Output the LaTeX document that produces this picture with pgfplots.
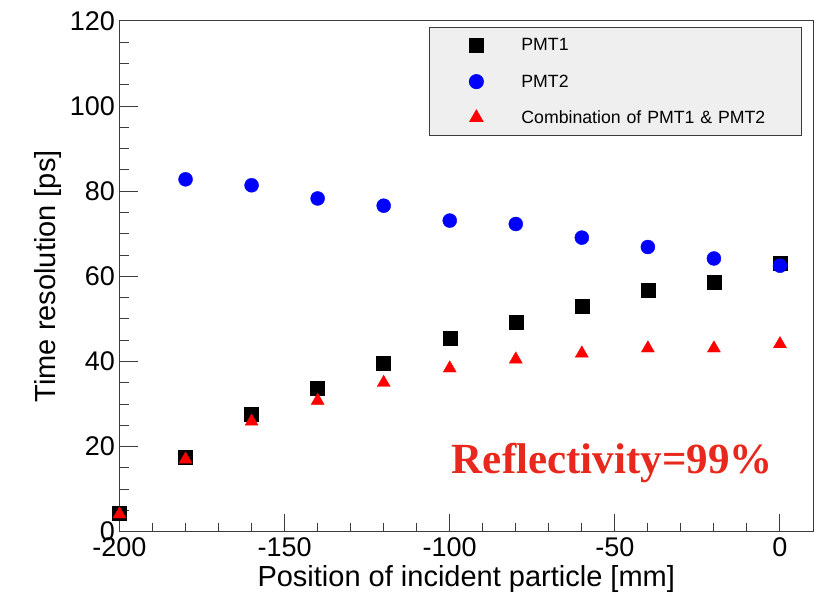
\documentclass[border=0pt]{standalone}
\usepackage{pgfplots}
\pgfplotsset{compat=1.18}
\usepackage{fontspec}
\setmainfont{Liberation Sans}
\newfontfamily\timesfont{Liberation Serif}
\definecolor{legfill}{RGB}{239,239,239}
\definecolor{axgray}{RGB}{60,60,60}
\definecolor{reftext}{RGB}{232,40,28}
\begin{document}
\begin{tikzpicture}
\path[use as bounding box] (0,0) rectangle (817pt,603pt);
\begin{axis}[
  at={(119.5pt,71.3pt)}, anchor=south west,
  scale only axis, width=693.5pt, height=510.7pt,
  xmin=-200, xmax=10, ymin=0, ymax=120,
  xtick={-200,-150,-100,-50,0}, ytick={0,20,40,60,80,100,120},
  minor x tick num=4, minor y tick num=3,
  xtick pos=bottom, ytick pos=left,
  tick align=inside,
  major tick length=18pt, minor tick length=9pt,
  axis line style={axgray, line width=1pt},
  every tick/.style={axgray, line width=1pt},
  /pgf/number format/assume math mode=true,
  ticklabel style={font=\fontsize{27}{27}\selectfont},
  xticklabel style={yshift=-2pt},
  yticklabel style={xshift=-1pt},
  every axis y label/.style={at={(axis description cs:-0.103,0.5)},rotate=90,anchor=center,font=\fontsize{29}{29}\selectfont},
  every axis x label/.style={at={(axis description cs:0.5,-0.092)},anchor=center,font=\fontsize{29}{29}\selectfont},
  xlabel={Position of incident particle [mm]},
  ylabel={Time resolution [ps]},
  legend cell align=left,
  legend style={at={(axis description cs:0.984,0.988)}, anchor=north east,
    fill=legfill, draw=axgray, line width=1pt, inner sep=0pt, column sep=6pt, row sep=0pt,
    font=\fontsize{17.7}{17.7}\selectfont,
    nodes={inner sep=0pt, minimum height=36pt, text width=280pt}},
  legend image code/.code={\path[draw=none] (-47pt,0pt) -- (39pt,0pt); \draw[#1] plot[only marks] coordinates {(0pt,0pt)};},
]
\addplot[only marks, mark=square*, mark size=7pt, black, mark options={draw=black, fill=black}] coordinates {
(-200,4.3) (-180,17.5) (-160,27.7) (-140,33.7) (-120,39.6) (-100,45.4) (-80,49.3) (-60,53.1) (-40,56.8) (-20,58.7) (0,63.1)};
\addlegendentry{PMT1}
\addplot[only marks, mark=*, mark size=7pt, blue, mark options={draw=blue, fill=blue}] coordinates {
(-180,82.8) (-160,81.4) (-140,78.3) (-120,76.6) (-100,73.1) (-80,72.3) (-60,69.1) (-40,66.9) (-20,64.2) (0,62.5)};
\addlegendentry{PMT2}
\addplot[only marks, mark=triangle*, mark size=7.5pt, red, mark options={draw=red, fill=red}] coordinates {
(-200,4.1) (-180,17.0) (-160,25.9) (-140,30.8) (-120,35.0) (-100,38.4) (-80,40.5) (-60,41.9) (-40,43.1) (-20,43.1) (0,44.1)};
\addlegendentry{Combination of PMT1 \& PMT2}
\node[reftext, font=\timesfont\bfseries\fontsize{43}{43}\selectfont, anchor=center] at (axis cs:-50.8,16.1) {Reflectivity=99\%};
\end{axis}
\end{tikzpicture}
\end{document}
